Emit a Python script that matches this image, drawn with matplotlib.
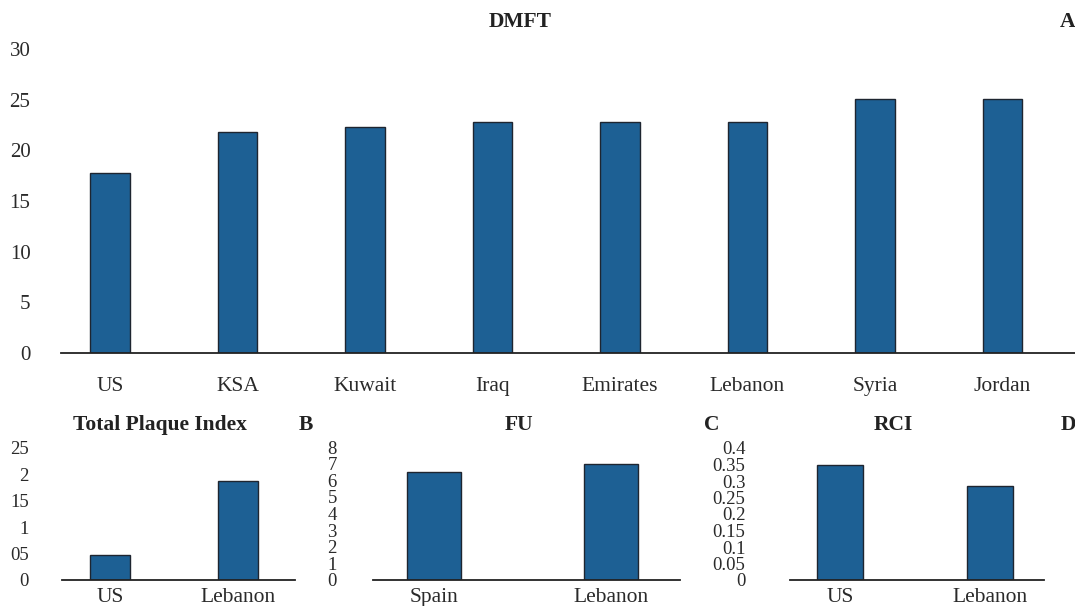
import matplotlib
matplotlib.use("Agg")
from matplotlib import pyplot as plt

# Panel A: DMFT by country
dmft_countries = ["US", "KSA", "Kuwait", "Iraq", "Emirates", "Lebanon", "Syria", "Jordan"]
dmft_values = [17.8, 21.8, 22.3, 22.8, 22.8, 22.8, 25.1, 25.1]
dmft_ticks = [0, 5, 10, 15, 20, 25, 30]

# Panel B: Total Plaque Index
tpi_countries = ["US", "Lebanon"]
tpi_values = [0.47, 1.87]
tpi_ticks = [0, 0.5, 1, 1.5, 2, 2.5]
tpi_ticklabels = ["0", "05", "1", "15", "2", "25"]

# Panel C: FU
fu_countries = ["Spain", "Lebanon"]
fu_values = [6.5, 7.0]
fu_ticks = [0, 1, 2, 3, 4, 5, 6, 7, 8]

# Panel D: RCI
rci_countries = ["US", "Lebanon"]
rci_values = [0.35, 0.285]
rci_ticks = [0, 0.05, 0.1, 0.15, 0.2, 0.25, 0.3, 0.35, 0.4]
rci_ticklabels = ["0", "0.05", "0.1", "0.15", "0.2", "0.25", "0.3", "0.35", "0.4"]

plt.rcParams['font.family'] = ['Liberation Serif', 'DejaVu Serif']
bar_color = "#1d6094"
edge_color = "#1e2530"
W, H = 1075, 606

fig = plt.figure(figsize=(W / 100, H / 100), dpi=100)


def px_axes(left, right, bottom, top):
    return fig.add_axes([left / W, 1 - bottom / H, (right - left) / W, (bottom - top) / H])


def style(ax, ylabelsize, ypad, xpad, xsize):
    for side in ["top", "right", "left"]:
        ax.spines[side].set_visible(False)
    ax.spines["bottom"].set_color("#222222")
    ax.spines["bottom"].set_linewidth(1.3)
    ax.tick_params(axis="y", length=0, labelsize=ylabelsize, pad=ypad, colors="#2a2a2a")
    ax.tick_params(axis="x", length=0, labelsize=xsize, pad=xpad, colors="#2a2a2a")


def bars(ax, cats, vals, width):
    ax.bar(range(len(cats)), vals, width=width, color=bar_color,
           edgecolor=edge_color, linewidth=1.0)
    ax.set_xticks(range(len(cats)))
    ax.set_xticklabels(cats)


# Panel A
axA = px_axes(61, 1075, 353, 49)
bars(axA, dmft_countries, dmft_values, 0.31)
axA.set_xlim(-0.384, 7.57)
axA.set_ylim(0, 30)
axA.set_yticks(dmft_ticks)
style(axA, 15, 22, 17, 15.5)

# Panel B
axB = px_axes(62, 295, 580, 448)
bars(axB, tpi_countries, tpi_values, 0.31)
axB.set_xlim(-0.375, 1.445)
axB.set_ylim(0, 2.5)
axB.set_yticks(tpi_ticks)
axB.set_yticklabels(tpi_ticklabels)
style(axB, 13.5, 24, 6, 15.5)

# Panel C
axC = px_axes(373, 680, 580, 447)
bars(axC, fu_countries, fu_values, 0.305)
axC.set_xlim(-0.345, 1.39)
axC.set_ylim(0, 8)
axC.set_yticks(fu_ticks)
style(axC, 13.5, 26, 6, 15.5)

# Panel D
axD = px_axes(790, 1044, 580, 448)
bars(axD, rci_countries, rci_values, 0.307)
axD.set_xlim(-0.333, 1.36)
axD.set_ylim(0, 0.4)
axD.set_yticks(rci_ticks)
axD.set_yticklabels(rci_ticklabels)
style(axD, 13.5, 32, 6, 15.5)

# Titles and panel letters
title_kw = dict(fontsize=15.5, fontweight="bold", color="#222222", va="center")
fig.text(520 / W, 1 - 22 / H, "DMFT", ha="center", **title_kw)
fig.text(1068 / W, 1 - 22 / H, "A", ha="center", **title_kw)
fig.text(160 / W, 1 - 425 / H, "Total Plaque Index", ha="center", **title_kw)
fig.text(306 / W, 1 - 425 / H, "B", ha="center", **title_kw)
fig.text(519 / W, 1 - 425 / H, "FU", ha="center", **title_kw)
fig.text(712 / W, 1 - 425 / H, "C", ha="center", **title_kw)
fig.text(893 / W, 1 - 425 / H, "RCI", ha="center", **title_kw)
fig.text(1068 / W, 1 - 425 / H, "D", ha="center", **title_kw)

fig.savefig("out.png", dpi=100)
